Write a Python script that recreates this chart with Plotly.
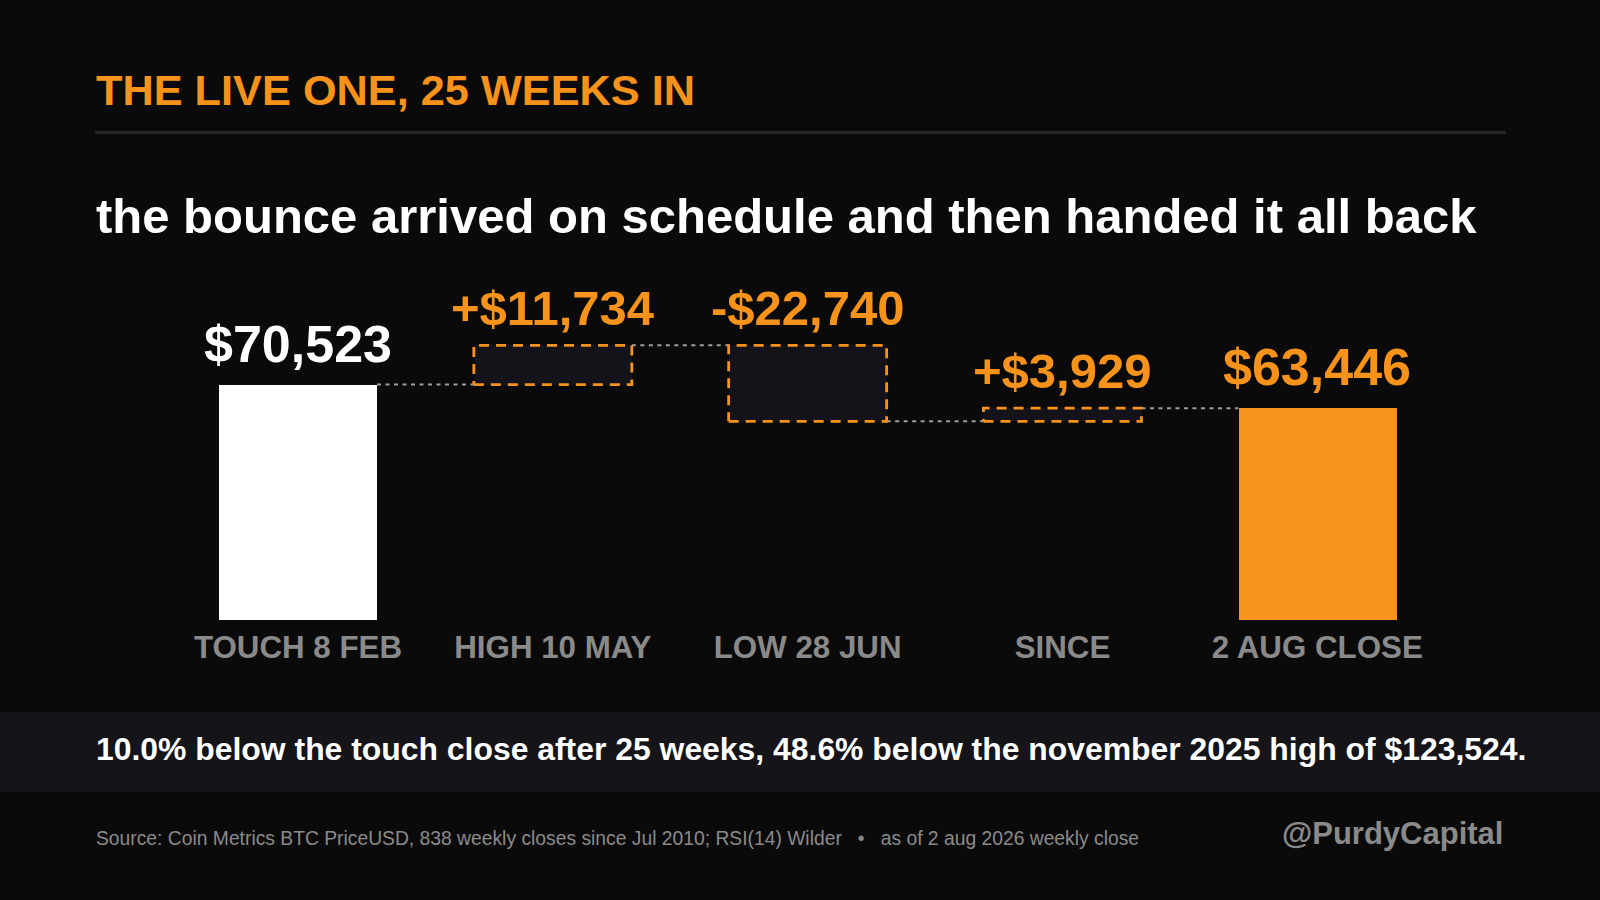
import plotly.graph_objects as go

# ---------------- data ----------------
categories = ["TOUCH 8 FEB", "HIGH 10 MAY", "LOW 28 JUN", "SINCE", "2 AUG CLOSE"]
measures = ["absolute", "relative", "relative", "relative", "total"]
values = [70523, 11734, -22740, 3929, 63446]
value_labels = ["$70,523", "+$11,734", "-$22,740", "+$3,929", "$63,446"]

title_text = "THE LIVE ONE, 25 WEEKS IN"
subtitle_text = "the bounce arrived on schedule and then handed it all back"
band_text = "10.0% below the touch close after 25 weeks, 48.6% below the november 2025 high of $123,524."
source_text = "Source: Coin Metrics BTC PriceUSD, 838 weekly closes since Jul 2010; RSI(14) Wilder   \u2022   as of 2 aug 2026 weekly close"
handle_text = "@PurdyCapital"

# ---------------- style ----------------
W, H = 1600, 900
BG = "#0a0a0a"
ORANGE = "#f7931a"
WHITE = "#ffffff"
GRAY = "#8a8a8a"
BOX_FILL = "#141319"
BAND = "#151419"
FONT = "Liberation Sans, Arial, sans-serif"

# plot area (pixels)
PX_LEFT, PX_RIGHT = 170.6, 1444.7
PX_BOTTOM, PX_TOP = 620.4, 250.0
DOLLARS_PER_PX = 299.0
BAR_W = 0.62

# ---------------- compute waterfall geometry ----------------
bases, tops, ends = [], [], []
running = 0
for m, v in zip(measures, values):
    if m in ("absolute", "total"):
        start, end = 0, v
    else:
        start, end = running, running + v
    running = end
    ends.append(end)
    bases.append(min(start, end))
    tops.append(max(start, end))

xs = list(range(len(categories)))
fig = go.Figure()

bar_colors = []
for m in measures:
    if m == "absolute":
        bar_colors.append(WHITE)
    elif m == "total":
        bar_colors.append(ORANGE)
    else:
        bar_colors.append(BOX_FILL)
fig.add_trace(go.Bar(
    x=xs,
    y=[t - b for t, b in zip(tops, bases)],
    base=bases,
    width=BAR_W,
    marker=dict(color=bar_colors, line=dict(width=0)),
    hoverinfo="skip",
    showlegend=False,
))

# dotted connectors
for i in range(len(categories) - 1):
    lvl = ends[i]
    fig.add_trace(go.Scatter(
        x=[xs[i] + BAR_W / 2, xs[i + 1] - BAR_W / 2],
        y=[lvl, lvl],
        mode="lines",
        line=dict(color="#9d9d9d", width=2, dash="4px,4.5px"),
        hoverinfo="skip",
        showlegend=False,
    ))

# dashed outlines around delta boxes
for i, m in enumerate(measures):
    if m == "relative":
        x0, x1 = xs[i] - BAR_W / 2, xs[i] + BAR_W / 2
        y0, y1 = bases[i], tops[i]
        fig.add_trace(go.Scatter(
            x=[x0, x1, x1, x0, x0],
            y=[y0, y0, y1, y1, y0],
            mode="lines",
            line=dict(color=ORANGE, width=2.8, dash="10px,7px"),
            hoverinfo="skip",
            showlegend=False,
        ))

# value labels
for i, m in enumerate(measures):
    big = m != "relative"
    fig.add_annotation(
        x=xs[i], y=tops[i], xref="x", yref="y",
        text=value_labels[i], showarrow=False,
        xanchor="center", yanchor="bottom", yshift=10 if big else 8,
        font=dict(family=FONT, size=52 if big else 49, weight="bold",
                  color=WHITE if m == "absolute" else ORANGE),
    )

# ---------------- page furniture ----------------
def px(x):
    return x / W

def py(y):
    return 1 - y / H

fig.add_annotation(x=px(94), y=py(90), xref="paper", yref="paper",
                   text=title_text, showarrow=False, xanchor="left", yanchor="middle",
                   font=dict(family=FONT, size=43.3, weight="bold", color=ORANGE))
fig.add_shape(type="line", xref="paper", yref="paper",
              x0=px(95), x1=px(1506), y0=py(132.5), y1=py(132.5),
              line=dict(color="#25252a", width=3))
fig.add_annotation(x=px(94), y=py(216), xref="paper", yref="paper",
                   text=subtitle_text, showarrow=False, xanchor="left", yanchor="middle",
                   font=dict(family=FONT, size=49, weight="bold", color=WHITE))
fig.add_shape(type="rect", xref="paper", yref="paper",
              x0=0, x1=1, y0=py(792), y1=py(712),
              line=dict(width=0), fillcolor=BAND, layer="below")
fig.add_annotation(x=px(94), y=py(749), xref="paper", yref="paper",
                   text=band_text, showarrow=False, xanchor="left", yanchor="middle",
                   font=dict(family=FONT, size=31.9, weight="bold", color=WHITE))
fig.add_annotation(x=px(94), y=py(838), xref="paper", yref="paper",
                   text=source_text, showarrow=False, xanchor="left", yanchor="middle",
                   font=dict(family=FONT, size=19.3, color=GRAY))
fig.add_annotation(x=px(1505), y=py(833), xref="paper", yref="paper",
                   text=handle_text, showarrow=False, xanchor="right", yanchor="middle",
                   font=dict(family=FONT, size=31, weight="bold", color=GRAY))

fig.update_layout(
    width=W, height=H,
    margin=dict(l=0, r=0, t=0, b=0),
    paper_bgcolor=BG, plot_bgcolor=BG,
    xaxis=dict(
        domain=[px(PX_LEFT), px(PX_RIGHT)],
        range=[-0.5, len(categories) - 0.5],
        tickmode="array", tickvals=xs, ticktext=categories,
        showgrid=False, zeroline=False, showline=False, ticks="",
        tickfont=dict(family=FONT, size=31.3, weight="bold", color=GRAY),
        ticklabelstandoff=5,
        fixedrange=True,
    ),
    yaxis=dict(
        domain=[py(PX_BOTTOM), py(PX_TOP)],
        range=[0, (PX_BOTTOM - PX_TOP) * DOLLARS_PER_PX],
        showgrid=False, zeroline=False, showline=False, showticklabels=False, ticks="",
        fixedrange=True,
    ),
    bargap=0,
    showlegend=False,
)

fig.write_html(
    "out.html",
    config={"displayModeBar": False},
    post_script="document.body.style.margin='0';document.body.style.background='#0a0a0a';document.body.style.overflow='hidden';",
)
